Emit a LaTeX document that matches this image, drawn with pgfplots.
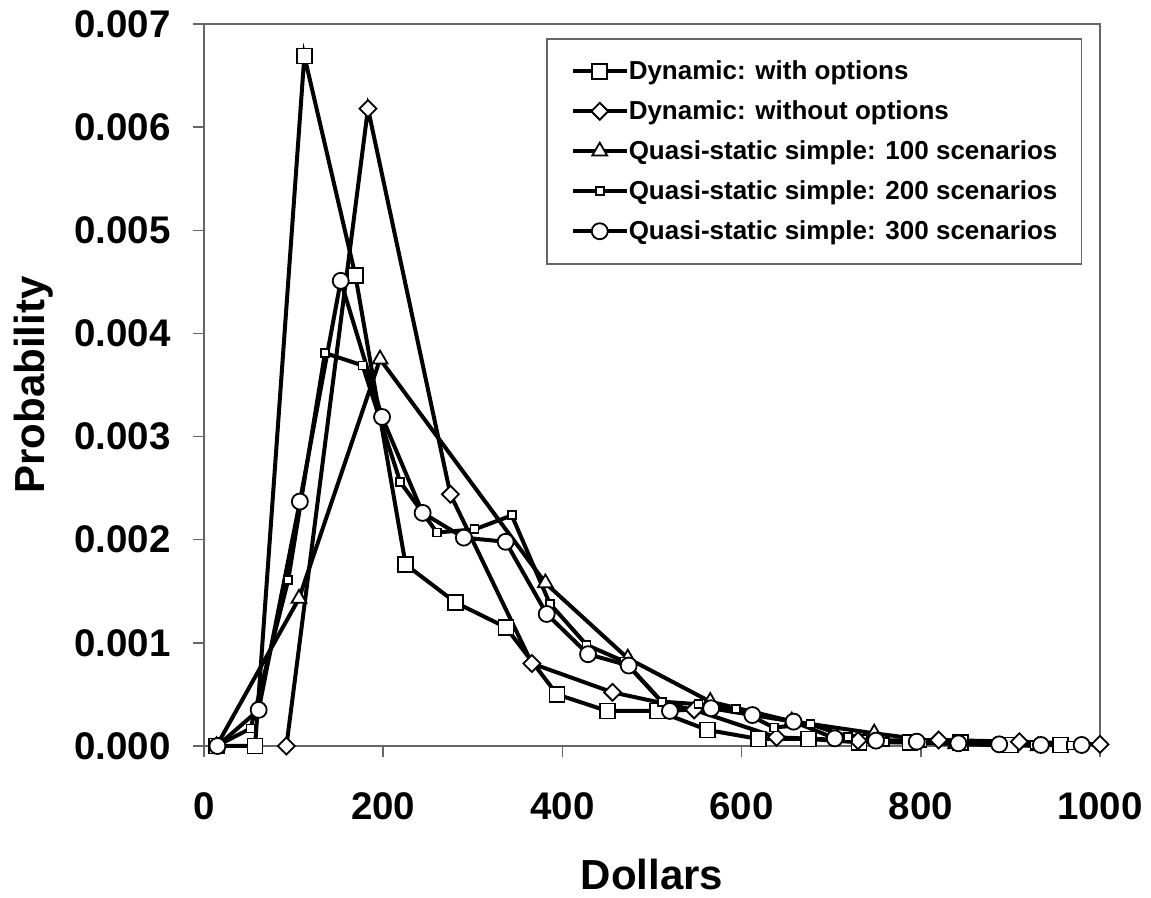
\documentclass[border=0pt]{standalone}
\usepackage{pgfplots}
\pgfplotsset{compat=1.18}
\usepackage{fontspec}
\setmainfont{Liberation Sans}
\begin{document}
\begin{tikzpicture}
\begin{axis}[
  scale only axis, width=448pt, height=361pt,
  xmin=0, xmax=1000, ymin=0, ymax=0.007,
  clip=false,
  axis line style={black!60, line width=0.75pt},
  tick style={black!60, line width=0.75pt},
  tick align=outside, major tick length=5.5pt,
  xtick pos=bottom, ytick pos=left,
  xtick={0,200,400,600,800,1000},
  xticklabels={0,200,400,600,800,1000},
  ytick={0,0.001,0.002,0.003,0.004,0.005,0.006,0.007},
  yticklabels={0.000,0.001,0.002,0.003,0.004,0.005,0.006,0.007},
  scaled y ticks=false, scaled x ticks=false,
  ticklabel style={font=\fontsize{19.25}{20}\selectfont\bfseries, inner sep=0pt},
  yticklabel style={anchor=east, xshift=-11pt},
  xticklabel style={anchor=north, yshift=-17.5pt},
  xlabel={Dollars},
  xlabel style={at={(axis description cs:0.5,-0.199)}, anchor=base, inner sep=0pt, font=\fontsize{21}{24}\selectfont\bfseries},
  ylabel={Probability},
  ylabel style={at={(axis description cs:-0.1775,0.5)}, anchor=base, inner sep=0pt, font=\fontsize{21}{24}\selectfont\bfseries},
  legend style={at={(axis description cs:0.3817,0.9806)}, anchor=north west,
    draw=black!60, line width=0.75pt,
    font=\fontsize{13}{15}\selectfont\bfseries,
    inner xsep=12pt, inner ysep=6.25pt, row sep=0pt,
    nodes={inner sep=0pt, minimum height=20pt}},
  legend cell align=left,
  legend image code/.code={\draw[mark repeat=2,mark phase=2,#1] plot coordinates {(0pt,0pt) (13.5pt,0pt) (27pt,0pt)};},
]
\addplot[black, line width=2pt, mark=square*, mark size=3.75pt, mark options={fill=white, draw=black, line width=0.9pt, solid}] coordinates {
(14,0) (57,0) (112,0.00669) (169,0.00456) (225,0.00176) (281,0.00139) (337,0.00115)
(394,0.00050) (450,0.00034) (506,0.00034) (562,0.000155) (619,0.000068) (675,0.000068)
(731,0.000036) (788,0.000036) (844,0.000036) (900,0.00001) (956,0.00001)};
\addlegendentry{Dynamic: with options}
\addplot[black, line width=2pt, mark=square*, mark size=3pt, mark options={rotate=45, fill=white, draw=black, line width=0.9pt, solid}] coordinates {
(92,0) (183,0.00618) (275,0.00244) (366,0.00080) (456,0.00052) (547,0.00035)
(639,0.000084) (730,0.000052) (820,0.000058) (910,0.000042) (1000,0.000016)};
\addlegendentry{Dynamic: without options}
\addplot[black, line width=2pt, mark=triangle*, mark size=4.3pt, mark options={fill=white, draw=black, line width=0.9pt, solid}] coordinates {
(14,0) (106,0.00143) (196.5,0.00375) (381,0.00158) (473,0.00085) (565,0.00043)
(656,0.00024) (748,0.000123) (839,0.00002) (931,0.0)};
\addlegendentry{Quasi-static simple: 100 scenarios}
\addplot[black, line width=2pt, mark=square*, mark size=2pt, mark options={fill=white, draw=black, line width=0.9pt, solid}] coordinates {
(14,0) (52,0.00017) (94,0.00161) (135,0.00381) (177,0.00369) (219,0.00256) (260,0.00207)
(302,0.00210) (343.5,0.002236) (386,0.00138) (427,0.00098) (469,0.00082) (511,0.00043)
(552,0.000405) (594,0.00036) (636,0.00018) (677,0.00021) (719,0.00009) (760,0.000042)
(802,0.00003) (843,0.00002) (885,0.00001) (927,0.00001) (968,0.000005)};
\addlegendentry{Quasi-static simple: 200 scenarios}
\addplot[black, line width=2pt, mark=*, mark size=4pt, mark options={fill=white, draw=black, line width=0.9pt, solid}] coordinates {
(15,0) (61,0.00035) (107,0.00237) (152.6,0.00451) (198.7,0.00319) (244,0.00226) (290,0.00202)
(336.7,0.00198) (382.5,0.00128) (428.6,0.00089) (474,0.00078) (520,0.00034) (566,0.000366)
(612,0.00030) (658,0.000236) (704,0.000074) (750,0.000052) (795.5,0.000042) (842,0.000026)
(887.5,0.000016) (934,0.00001) (979.5,0.00001)};
\addlegendentry{Quasi-static simple: 300 scenarios}
\end{axis}
\pgfresetboundingbox
\path (current axis.south west) ++(-102pt,-76pt) rectangle ++(575.5pt,449pt);
\end{tikzpicture}
\end{document}
